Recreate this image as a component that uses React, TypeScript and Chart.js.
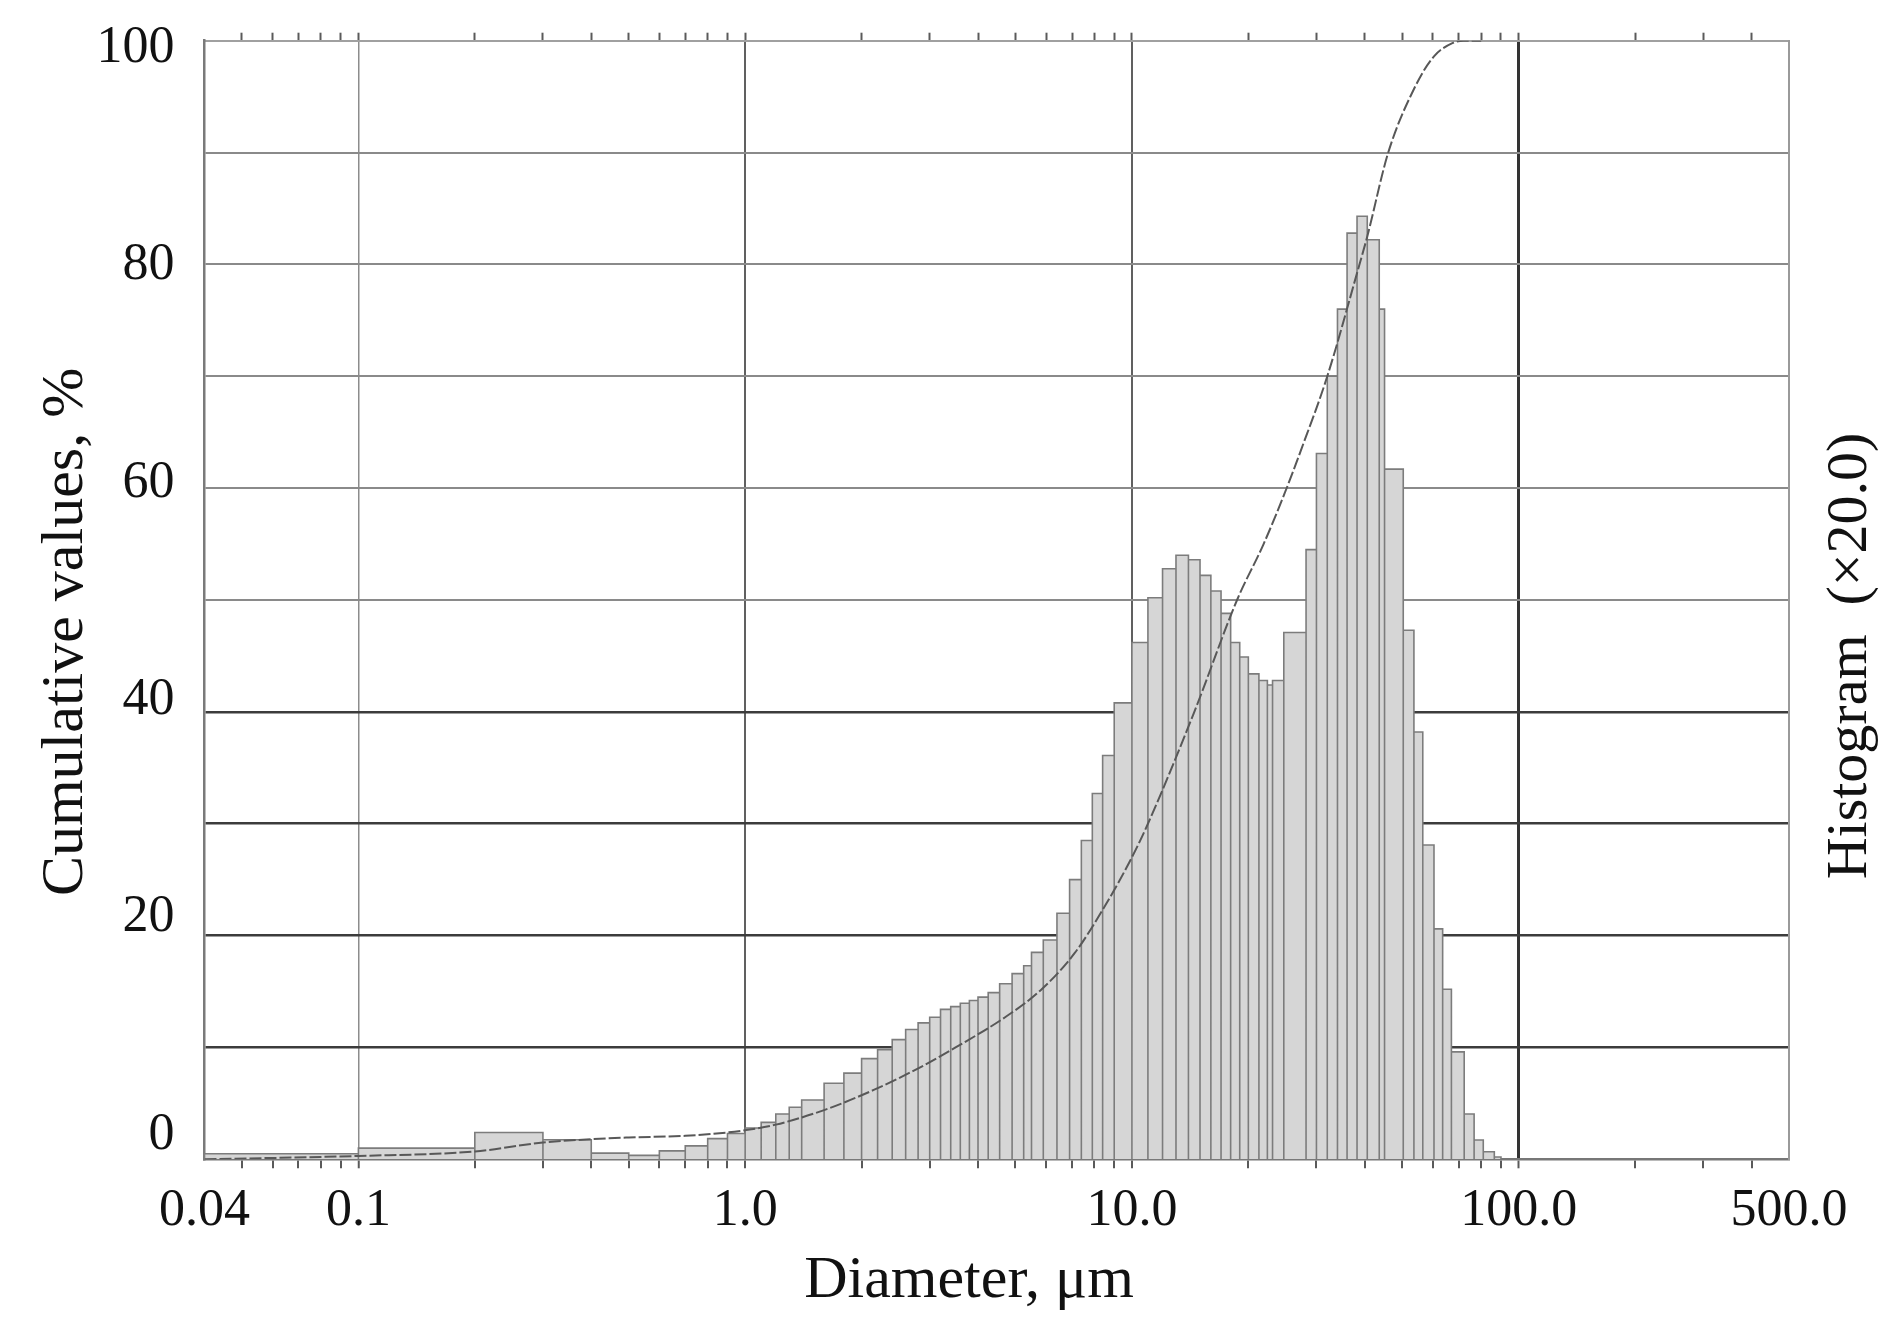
import React, { useEffect, useRef } from 'react';
import { Chart, registerables } from 'chart.js';

Chart.register(...registerables);

// ---- Data ----
// Histogram bin edges (µm) and bar heights (plotted in the 0–100 frame)
const HIST_EDGES = [
  0.04, 0.1, 0.2, 0.3, 0.4, 0.5, 0.6, 0.7, 0.8, 0.9,
  1.0, 1.1, 1.2, 1.3, 1.4, 1.6, 1.8,
  2.0, 2.2, 2.4, 2.6, 2.8, 3.0, 3.2, 3.4, 3.6, 3.8,
  4.0, 4.25, 4.55, 4.9, 5.25, 5.5, 5.9, 6.4, 6.9, 7.4, 7.9, 8.4, 9.0,
  10, 11, 12, 13, 14, 15, 16, 17, 18, 19, 20,
  21.3, 22.4, 23.1, 24.7, 28.2, 30, 32, 34, 36, 38.2, 40.6, 43.6, 45,
  50.3, 53.6, 56.5, 60.4, 63.6, 67, 72.3, 76.7, 81, 86.5, 90,
];
const HIST_VALUES = [
  0.5, 1.0, 2.4, 1.75, 0.55, 0.35, 0.75, 1.2, 1.85, 2.3,
  2.8, 3.3, 4.05, 4.65, 5.3, 6.8, 7.7,
  9.0, 9.8, 10.7, 11.6, 12.2, 12.7, 13.4, 13.65, 13.95, 14.2,
  14.5, 14.9, 15.7, 16.6, 17.3, 18.5, 19.6, 22.0, 25.0, 28.5, 32.7, 36.1, 40.8,
  46.2, 50.2, 52.8, 54.0, 53.6, 52.2, 50.8, 48.8, 46.2, 44.9,
  43.4, 42.8, 42.4, 42.8, 47.1, 54.5, 63.1, 70.0, 76.0, 82.8,
  84.3, 82.2, 76.0, 61.7, 47.3, 38.2, 28.1, 20.6, 15.2, 9.6,
  4.05, 1.73, 0.68, 0.2,
];

// Cumulative curve (µm, %)
const CUM_X = [
  0.04, 0.1, 0.2, 0.3, 0.4, 0.5, 0.7, 0.9, 1.0, 1.2, 1.6, 2.15, 2.9, 3.5,
  4.7, 5.8, 7.1, 8.5, 10, 11, 14.5, 18.7, 21.9, 24.8, 27.5, 32, 38.4, 40.6,
  46, 54, 60.4, 67.6, 72, 80,
];
const CUM_Y = [
  0, 0.3, 0.7, 1.5, 1.8, 1.95, 2.1, 2.4, 2.6, 3.1, 4.4, 6.2, 8.4, 10.0,
  12.7, 15.1, 18.4, 22.6, 27.0, 30, 40, 50, 55.0, 59.5, 63.6, 70.0, 79.5, 82.5,
  90, 95.9, 98.6, 99.8, 100, 100,
];

// Axis ticks and labels
const X_TICK_VALUES = [
  0.04, 0.05, 0.06, 0.07, 0.08, 0.09,
  0.1, 0.2, 0.3, 0.4, 0.5, 0.6, 0.7, 0.8, 0.9,
  1, 2, 3, 4, 5, 6, 7, 8, 9,
  10, 20, 30, 40, 50, 60, 70, 80, 90,
  100, 200, 300, 400, 500,
];
const X_LABEL_VALUES = [0.04, 0.1, 1, 10, 100, 500];
const X_LABEL_TEXT = ['0.04', '0.1', '1.0', '10.0', '100.0', '500.0'];
const X_GRID_VALUES = [0.1, 1, 10, 100];
const Y_GRID_VALUES = [0, 10, 20, 30, 40, 50, 60, 70, 80, 90, 100];
const Y_LABEL_VALUES = [0, 20, 40, 60, 80, 100];

const X_TITLE = 'Diameter, μm';
const Y_TITLE = 'Cumulative values, %';
const R_TITLE = 'Histogram  (×20.0)';

// ---- Layout / style ----
const W = 1896;
const H = 1335;
const AREA_LEFT = 204.5;
const AREA_RIGHT = 1789;
const AREA_TOP = 40.7;
const AREA_BOTTOM = 1159.3;
const SERIF = '"Liberation Serif", "Times New Roman", serif';

const same = (a: number, b: number) => Math.abs(a / b - 1) < 1e-6;

const clearPad = (s: any) => {
  s.paddingTop = 0;
  s.paddingBottom = 0;
  s.paddingLeft = 0;
  s.paddingRight = 0;
};

const titlePlugin = {
  id: 'sideTitles',
  afterDraw(chart: any) {
    const ctx = chart.ctx as CanvasRenderingContext2D;
    ctx.save();
    ctx.fillStyle = '#111111';
    ctx.textAlign = 'center';
    ctx.textBaseline = 'alphabetic';
    ctx.font = `60px ${SERIF}`;
    ctx.fillText(X_TITLE, 969, 1297);

    ctx.save();
    ctx.translate(82, 632);
    ctx.rotate(-Math.PI / 2);
    ctx.fillText(Y_TITLE, 0, 0);
    ctx.restore();

    ctx.save();
    ctx.translate(1866, 656);
    ctx.rotate(-Math.PI / 2);
    ctx.font = `58px ${SERIF}`;
    ctx.fillText(R_TITLE, 0, 0);
    ctx.restore();

    ctx.restore();
  },
};

export default function App() {
  const canvasRef = useRef<HTMLCanvasElement | null>(null);

  useEffect(() => {
    if (!canvasRef.current) return;

    const histPoints: { x: number; y: number }[] = [];
    HIST_VALUES.forEach((h, i) => {
      const a = HIST_EDGES[i];
      const b = HIST_EDGES[i + 1];
      histPoints.push({ x: a, y: 0 }, { x: a, y: h }, { x: b, y: h }, { x: b, y: 0 });
    });
    const cumPoints = CUM_X.map((x, i) => ({ x, y: CUM_Y[i] }));

    const xTickColor = (c: any) => {
      const v = c.tick?.value;
      if (v === undefined) return 'rgba(0,0,0,0)';
      if (same(v, 0.04) || same(v, 500)) return 'rgba(0,0,0,0)';
      return '#5a5a5a';
    };

    const chart = new Chart(canvasRef.current, {
      type: 'line',
      data: {
        datasets: [
          {
            label: 'Cumulative',
            data: cumPoints,
            borderColor: '#585858',
            borderWidth: 2,
            borderDash: [12, 3],
            fill: false,
            pointRadius: 0,
            cubicInterpolationMode: 'monotone',
            order: 1,
          },
          {
            label: 'Histogram',
            data: histPoints,
            borderColor: '#7c7c7c',
            borderWidth: 1.6,
            backgroundColor: '#d6d6d6',
            fill: 'origin',
            pointRadius: 0,
            tension: 0,
            order: 2,
          },
        ],
      },
      options: {
        animation: false,
        responsive: false,
        maintainAspectRatio: false,
        devicePixelRatio: 1,
        layout: { padding: 0 },
        plugins: {
          legend: { display: false },
          tooltip: { enabled: false },
        },
        scales: {
          x: {
            type: 'logarithmic',
            position: 'bottom',
            min: 0.04,
            max: 500,
            z: 1,
            afterBuildTicks: (s: any) => {
              s.ticks = X_TICK_VALUES.map((v) => ({ value: v }));
            },
            afterFit: (s: any) => {
              s.height = H - AREA_BOTTOM;
              clearPad(s);
            },
            ticks: {
              autoSkip: false,
              maxRotation: 0,
              minRotation: 0,
              padding: 11.5,
              color: '#111111',
              font: { family: SERIF, size: 52 },
              callback: (v: any) => {
                const i = X_LABEL_VALUES.findIndex((l) => same(l, Number(v)));
                return i >= 0 ? X_LABEL_TEXT[i] : '';
              },
            },
            grid: {
              drawOnChartArea: true,
              drawTicks: true,
              tickLength: 9,
              tickWidth: 2,
              tickColor: xTickColor,
              color: (c: any) => {
                const v = c.tick?.value;
                if (v === undefined) return 'rgba(0,0,0,0)';
                if (!X_GRID_VALUES.some((g) => same(g, v))) return 'rgba(0,0,0,0)';
                if (same(v, 0.1)) return '#8c8c8c';
                if (same(v, 100)) return '#333333';
                return '#606060';
              },
              lineWidth: (c: any) => {
                const v = c.tick?.value;
                if (v !== undefined && same(v, 100)) return 3;
                if (v !== undefined && same(v, 0.1)) return 1.5;
                return 2;
              },
            },
            border: { display: true, color: '#777777', width: 2.5 },
          },
          xt: {
            type: 'logarithmic',
            position: 'top',
            min: 0.04,
            max: 500,
            afterBuildTicks: (s: any) => {
              s.ticks = X_TICK_VALUES.map((v) => ({ value: v }));
            },
            afterFit: (s: any) => {
              s.height = AREA_TOP;
              clearPad(s);
            },
            ticks: { display: false, autoSkip: false },
            grid: {
              drawOnChartArea: false,
              drawTicks: true,
              tickLength: 8,
              tickWidth: 2,
              tickColor: xTickColor,
              color: 'rgba(0,0,0,0)',
            },
            border: { display: true, color: '#a0a0a0', width: 2 },
          },
          y: {
            type: 'linear',
            position: 'left',
            weight: 0,
            min: 0,
            max: 100,
            z: 1,
            afterBuildTicks: (s: any) => {
              s.ticks = Y_GRID_VALUES.map((v) => ({ value: v }));
            },
            afterFit: (s: any) => {
              s.width = 0;
              clearPad(s);
            },
            ticks: { display: false },
            grid: {
              drawTicks: false,
              color: (c: any) => {
                const v = c.tick?.value;
                if (v === undefined || v <= 0 || v >= 100) return 'rgba(0,0,0,0)';
                return v <= 40 ? '#3c3c3c' : '#8a8a8a';
              },
              lineWidth: (c: any) => {
                const v = c.tick?.value;
                return v !== undefined && v <= 40 ? 2.5 : 2;
              },
            },
            border: { display: true, color: '#7a7a7a', width: 2.5 },
          },
          yl: {
            type: 'linear',
            position: 'left',
            weight: 10,
            min: -2.24,
            max: 100.7,
            afterBuildTicks: (s: any) => {
              s.ticks = Y_LABEL_VALUES.map((v) => ({ value: v }));
            },
            afterFit: (s: any) => {
              s.width = AREA_LEFT;
              clearPad(s);
            },
            ticks: {
              padding: 30,
              color: '#111111',
              font: { family: SERIF, size: 52 },
            },
            grid: { display: false, drawTicks: false },
            border: { display: false },
          },
          yr: {
            type: 'linear',
            position: 'right',
            min: 0,
            max: 100,
            afterFit: (s: any) => {
              s.width = W - AREA_RIGHT;
              clearPad(s);
            },
            ticks: { display: false },
            grid: { display: false, drawTicks: false },
            border: { display: true, color: '#9a9a9a', width: 2 },
          },
        },
      } as any,
      plugins: [titlePlugin],
    });

    return () => chart.destroy();
  }, []);

  return (
    <div style={{ position: 'fixed', left: 0, top: 0, width: W, height: H, background: '#ffffff' }}>
      <canvas ref={canvasRef} width={W} height={H} style={{ display: 'block', width: W, height: H }} />
    </div>
  );
}
